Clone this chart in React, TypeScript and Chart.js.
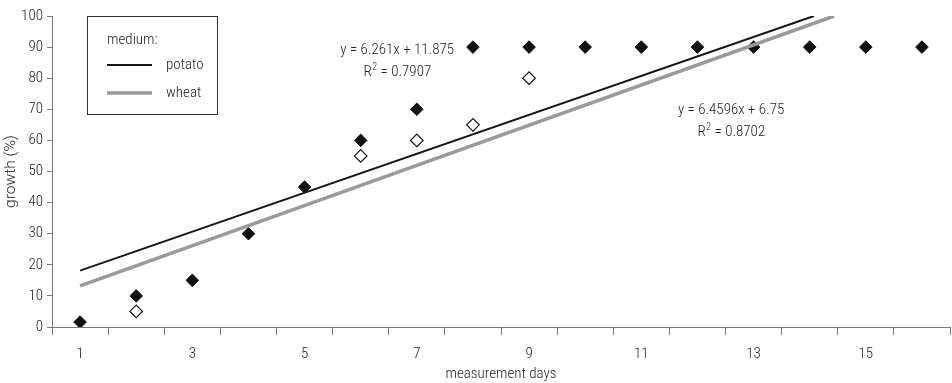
import { useEffect, useRef } from 'react';
import { Chart, registerables } from 'chart.js';

Chart.register(...registerables);

const days = [1, 2, 3, 4, 5, 6, 7, 8, 9, 10, 11, 12, 13, 14, 15, 16];
const potatoGrowth = [1.6, 10, 15, 30, 45, 60, 70, 90, 90, 90, 90, 90, 90, 90, 90, 90];
const wheatDays = [2, 6, 7, 8, 9];
const wheatGrowth = [5, 55, 60, 65, 80];
const seriesNames = ['potato', 'wheat'];
const trendSlopes = [6.261, 6.4596];
const trendIntercepts = [11.875, 6.75];
const trendEquations = ['y = 6.261x + 11.875', 'y = 6.4596x + 6.75'];
const trendR2 = ['0.7907', '0.8702'];
const xLabelDays = [1, 3, 5, 7, 9, 11, 13, 15];
const yTickValues = [0, 10, 20, 30, 40, 50, 60, 70, 80, 90, 100];

const FAMILY = 'Roboto, "DejaVu Sans Condensed", sans-serif';
const WEIGHT = '300 condensed';
const SIZE = 15;
const fontStr = (size: number) => `${WEIGHT} ${size}px ${FAMILY}`;
const TEXT = '#222';
const AXIS = '#777';
const LINE_COLORS = ['#151515', '#9a9a9a'];
const LINE_WIDTHS = [2, 3.5];
const Y_MAX = 100;

function trendPoints(i: number) {
  const m = trendSlopes[i];
  const b = trendIntercepts[i];
  const x0 = days[0];
  const xLast = days[days.length - 1];
  const xEnd = Math.min(xLast, (Y_MAX - b) / m);
  return [
    { x: x0, y: m * x0 + b },
    { x: xEnd, y: m * xEnd + b },
  ];
}

const labelAnchors = [
  { x: 6.65, y: 89 },
  { x: 12.6, y: 69.6 },
];

const overlayPlugin = {
  id: 'overlay',
  afterDraw(chart: any) {
    const { ctx, chartArea, scales } = chart;
    ctx.save();
    // legend
    const bx = chartArea.left + 35;
    const by = chartArea.top;
    const bw = 130;
    const bh = 98;
    ctx.strokeStyle = '#333';
    ctx.lineWidth = 1;
    ctx.strokeRect(Math.round(bx) + 0.5, Math.round(by) + 0.5, bw, bh);
    ctx.fillStyle = TEXT;
    ctx.font = fontStr(SIZE);
    ctx.textAlign = 'left';
    ctx.textBaseline = 'middle';
    ctx.fillText('medium:', bx + 20, by + 24);
    seriesNames.forEach((name, i) => {
      const yy = by + 49 + i * 28;
      ctx.strokeStyle = LINE_COLORS[i];
      ctx.lineWidth = LINE_WIDTHS[i];
      ctx.beginPath();
      ctx.moveTo(bx + 20, yy);
      ctx.lineTo(bx + 65, yy);
      ctx.stroke();
      ctx.fillStyle = TEXT;
      ctx.fillText(name, bx + 79, yy);
    });
    // equations
    labelAnchors.forEach((a, i) => {
      const cx = scales.x.getPixelForValue(a.x);
      const cy = scales.y.getPixelForValue(a.y);
      ctx.fillStyle = TEXT;
      ctx.font = fontStr(SIZE);
      ctx.textAlign = 'center';
      ctx.textBaseline = 'middle';
      ctx.fillText(trendEquations[i], cx, cy);
      const y2 = cy + 22;
      const rest = ' = ' + trendR2[i];
      const wR = ctx.measureText('R').width;
      const wRest = ctx.measureText(rest).width;
      ctx.font = fontStr(10);
      const w2 = ctx.measureText('2').width;
      let x = cx - (wR + w2 + wRest) / 2;
      ctx.textAlign = 'left';
      ctx.font = fontStr(SIZE);
      ctx.fillText('R', x, y2);
      x += wR + 0.5;
      ctx.font = fontStr(10);
      ctx.fillText('2', x, y2 - 5);
      x += w2;
      ctx.font = fontStr(SIZE);
      ctx.fillText(rest, x, y2);
    });
    ctx.restore();
  },
};

const chartFont = { family: FAMILY, size: SIZE, weight: WEIGHT as any };

export default function App() {
  const ref = useRef<HTMLCanvasElement>(null);
  useEffect(() => {
    document.body.style.margin = '0';
    const xTicks: number[] = [];
    for (let i = 0; i <= days.length; i++) {
      xTicks.push(days[0] - 0.5 + i);
      if (i < days.length) xTicks.push(days[i]);
    }
    const chart = new Chart(ref.current!, {
      type: 'scatter',
      data: {
        datasets: [
          {
            label: 'potato trend',
            data: trendPoints(0),
            showLine: true,
            borderColor: LINE_COLORS[0],
            borderWidth: LINE_WIDTHS[0],
            pointRadius: 0,
            order: 0,
          },
          {
            label: 'wheat trend',
            data: trendPoints(1),
            showLine: true,
            borderColor: LINE_COLORS[1],
            borderWidth: LINE_WIDTHS[1],
            pointRadius: 0,
            order: 0,
          },
          {
            label: 'potato',
            data: days.map((d, i) => ({ x: d, y: potatoGrowth[i] })),
            pointStyle: 'rectRot',
            pointRadius: 6.3,
            backgroundColor: '#111',
            borderColor: '#111',
            borderWidth: 1,
            order: 1,
          },
          {
            label: 'wheat',
            data: wheatDays.map((d, i) => ({ x: d, y: wheatGrowth[i] })),
            pointStyle: 'rectRot',
            pointRadius: 6.3,
            backgroundColor: '#fff',
            borderColor: '#111',
            borderWidth: 1.2,
            order: 2,
          },
        ],
      },
      options: {
        responsive: false,
        animation: false,
        layout: { autoPadding: false, padding: { top: 16, right: 2, left: 0, bottom: 0 } },
        plugins: { legend: { display: false }, tooltip: { enabled: false } },
        scales: {
          x: {
            type: 'linear',
            min: days[0] - 0.5,
            max: days[days.length - 1] + 0.5,
            afterBuildTicks: (scale: any) => {
              scale.ticks = xTicks.map((v) => ({ value: v }));
            },
            afterFit: (scale: any) => {
              scale.height = 56;
              scale.paddingLeft = 0;
              scale.paddingRight = 0;
            },
            ticks: {
              autoSkip: false,
              maxRotation: 0,
              padding: 10,
              color: TEXT,
              font: chartFont,
              callback: (v: any) => (xLabelDays.includes(Number(v)) ? String(v) : ''),
            },
            grid: {
              drawOnChartArea: false,
              tickLength: 8,
              tickColor: (c: any) =>
                c.tick && Number.isInteger(c.tick.value) ? 'rgba(0,0,0,0)' : AXIS,
            },
            border: { display: true, color: AXIS, width: 1 },
            title: {
              display: true,
              text: 'measurement days',
              color: TEXT,
              font: chartFont,
              padding: { top: 0, bottom: 0 },
            },
          },
          y: {
            min: 0,
            max: Y_MAX,
            afterBuildTicks: (scale: any) => {
              scale.ticks = yTickValues.map((v) => ({ value: v }));
            },
            afterFit: (scale: any) => {
              scale.width = 52;
            },
            ticks: {
              padding: 4,
              color: TEXT,
              font: chartFont,
            },
            grid: { drawOnChartArea: false, tickLength: 5, tickColor: AXIS },
            border: { display: true, color: AXIS, width: 1 },
            title: {
              display: true,
              text: 'growth (%)',
              color: TEXT,
              font: { family: FAMILY, size: 15.5, weight: '300' as any },
              padding: { top: 2, bottom: 0 },
            },
          },
        },
      },
      plugins: [overlayPlugin],
    });
    return () => chart.destroy();
  }, []);
  return (
    <div style={{ position: 'absolute', left: 0, top: 0, width: 952, height: 383 }}>
      <canvas ref={ref} width={952} height={383} />
    </div>
  );
}
